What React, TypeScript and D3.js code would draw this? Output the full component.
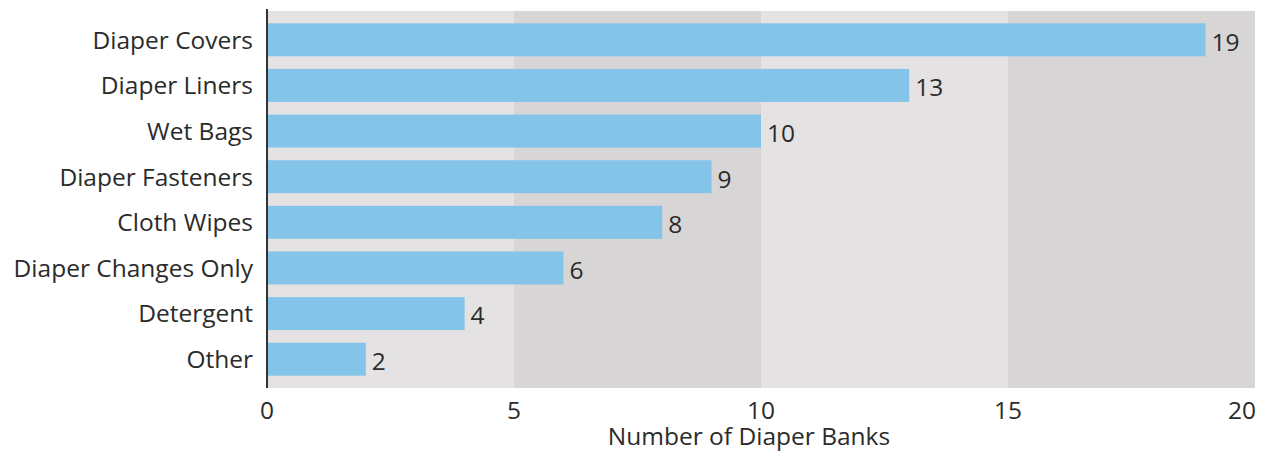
import React from "react";
import * as d3 from "d3";

const categories = [
  "Diaper Covers",
  "Diaper Liners",
  "Wet Bags",
  "Diaper Fasteners",
  "Cloth Wipes",
  "Diaper Changes Only",
  "Detergent",
  "Other",
];
const values = [19, 13, 10, 9, 8, 6, 4, 2];
const xTicks = [0, 5, 10, 15, 20];
const xTitle = "Number of Diaper Banks";

const W = 1265;
const H = 455;
const left = 267;
const right = 1255;
const top = 11;
const bottom = 388;
const FONT = "'Open Sans', sans-serif";
const FS = 24.5;
const TXT = "#2b2b2b";

export default function App() {
  const x = d3.scaleLinear().domain([0, 20]).range([left, right]);
  const y = d3
    .scaleBand<string>()
    .domain(categories)
    .range([top, bottom])
    .paddingInner(0.277)
    .paddingOuter(0.27);
  const bands = d3.range(0, 20, 5);
  return (
    <svg
      width={W}
      height={H}
      style={{ position: "absolute", left: 0, top: 0, background: "#fff" }}
      fontFamily={FONT}
    >
      {bands.map((b, i) => (
        <rect
          key={b}
          x={x(b)}
          y={top}
          width={x(b + 5) - x(b)}
          height={bottom - top}
          fill={i % 2 === 0 ? "#e4e2e3" : "#d7d5d6"}
        />
      ))}
      {categories.map((c, i) => (
        <g key={c}>
          <rect
            x={x(0)}
            y={y(c)}
            width={x(values[i]) - x(0)}
            height={y.bandwidth()}
            fill="#85c4e9"
          />
          <text
            x={x(values[i]) + 6}
            y={(y(c) as number) + y.bandwidth() / 2 + 2}
            dy="0.36em"
            fontSize={FS}
            fill={TXT}
          >
            {values[i]}
          </text>
          <text
            x={left - 14}
            y={(y(c) as number) + y.bandwidth() / 2}
            dy="0.36em"
            textAnchor="end"
            fontSize={FS}
            fill={TXT}
          >
            {c}
          </text>
        </g>
      ))}
      <line x1={left} x2={left} y1={9} y2={bottom} stroke="#333" strokeWidth={2} />
      {xTicks.map((t, i) => (
        <text
          key={t}
          x={i === xTicks.length - 1 ? 1256 : x(t)}
          y={410}
          dy="0.36em"
          textAnchor={i === xTicks.length - 1 ? "end" : "middle"}
          fontSize={FS}
          fill={TXT}
        >
          {t}
        </text>
      ))}
      <text
        x={749}
        y={436}
        dy="0.36em"
        textAnchor="middle"
        fontSize={FS}
        fill={TXT}
      >
        {xTitle}
      </text>
    </svg>
  );
}
